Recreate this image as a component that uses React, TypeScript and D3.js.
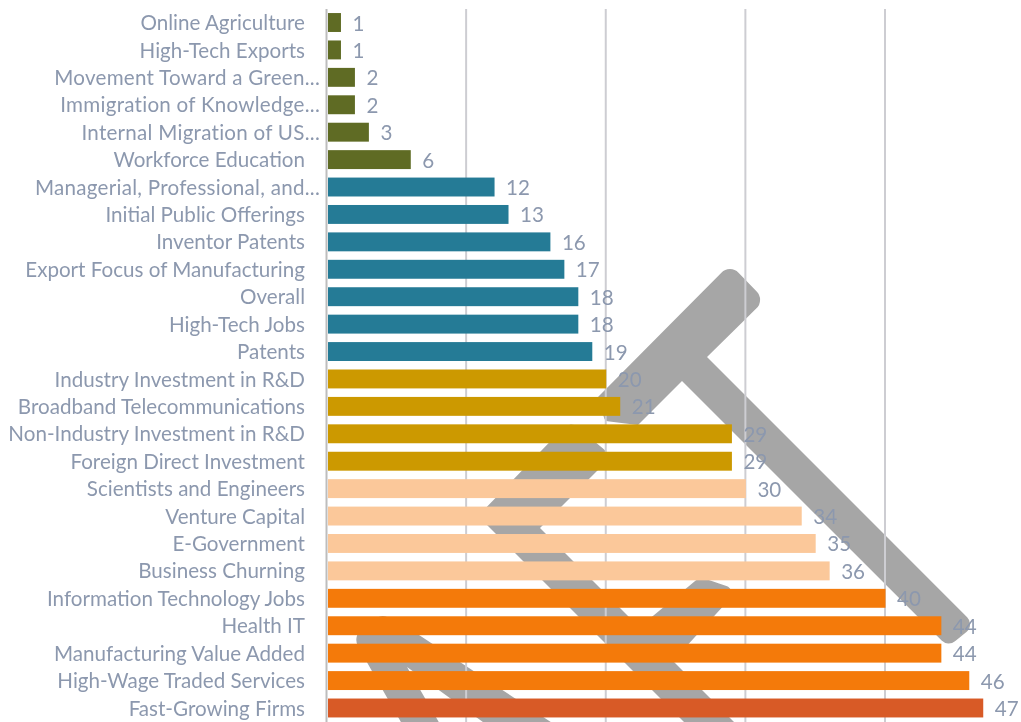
import React from "react";
import * as d3 from "d3";

const categories = ["Online Agriculture","High-Tech Exports","Movement Toward a Green...","Immigration of Knowledge...","Internal Migration of US...","Workforce Education","Managerial, Professional, and...","Initial Public Offerings","Inventor Patents","Export Focus of Manufacturing","Overall","High-Tech Jobs","Patents","Industry Investment in R&D","Broadband Telecommunications","Non-Industry Investment in R&D","Foreign Direct Investment","Scientists and Engineers","Venture Capital","E-Government","Business Churning","Information Technology Jobs","Health IT","Manufacturing Value Added","High-Wage Traded Services","Fast-Growing Firms"];
const values = [1,1,2,2,3,6,12,13,16,17,18,18,19,20,21,29,29,30,34,35,36,40,44,44,46,47];
const groupColors = ["#5f6b24","#257b96","#cc9900","#fbc89a","#f47a0a","#d85a26"];
const groupOfRow = [0,0,0,0,0,0,1,1,1,1,1,1,1,2,2,2,2,3,3,3,3,4,4,4,4,5];
const gridTicks = [10,20,30,40];

type Pt = [number, number, number];
const watermark: Pt[][] = [
  [[730,264,12],[765,300,12],[707,357,0],[975,625,10],[948,647,10],[682,381,0],[638,425,0],[605,421,4],[598,397,0]],
  [[570,421,10],[612,456,10],[540,528,0],[755,743,0],[705,743,0],[478,516,0]],
  [[700,577,10],[738,590,8],[672,662,0],[636,630,0]],
  [[382,614,12],[416,633,0],[575,738,0],[505,738,0],[407,667,0],[448,738,0],[410,738,0],[352,636,14]],
];

function roundedPoly(pts: Pt[]): string {
  const p = d3.path();
  const n = pts.length;
  const mid = (a: Pt, b: Pt) => [(a[0] + b[0]) / 2, (a[1] + b[1]) / 2];
  const s = mid(pts[n - 1], pts[0]);
  p.moveTo(s[0], s[1]);
  pts.forEach((c, i) => {
    const m = mid(c, pts[(i + 1) % n]);
    if (c[2] > 0) p.arcTo(c[0], c[1], m[0], m[1], c[2]);
    else p.lineTo(c[0], c[1]);
    p.lineTo(m[0], m[1]);
  });
  p.closePath();
  return p.toString();
}

const textColor = "#8c98ae";
const font = "Lato, 'Open Sans', sans-serif";

export default function App() {
  const x = d3.scaleLinear().domain([0, 40]).range([326.5, 885]);
  const y = d3.scaleBand<string>().domain(categories).range([8.8, 721.7]).paddingInner(0.31).paddingOuter(0.155);
  const bh = y.bandwidth();
  return (
    <svg width={1021} height={722} style={{ position: "absolute", left: 0, top: 0, background: "#fff" }}>
      <defs>
        <filter id="soft" x="-5%" y="-5%" width="110%" height="110%">
          <feGaussianBlur stdDeviation="0.35" />
        </filter>
      </defs>
      {watermark.map((s, i) => <path key={i} d={roundedPoly(s)} fill="#a6a6a6" />)}
      {gridTicks.map(t => (
        <line key={t} x1={x(t)} x2={x(t)} y1={9} y2={722} stroke="#cdcdd2" strokeWidth={2} />
      ))}
      <line x1={x(0)} x2={x(0)} y1={9} y2={722} stroke="#bdbdbd" strokeWidth={2} />
      {categories.map((c, i) => {
        const yy = y(c)!;
        const b = groupColors[groupOfRow[i]];
        return <rect key={c} x={x(0) + 1.5} y={yy} width={x(values[i]) - x(0) - 1} height={bh} fill={b} />;
      })}
      <g filter="url(#soft)" fontFamily={font} fontSize={20.6} fill={textColor}>
        {categories.map((c, i) => {
          const yy = y(c)!;
          const trunc = c.endsWith("...");
          return (
            <g key={c}>
              <text x={trunc ? 320 : 305} y={yy + bh / 2 + 7.6} textAnchor="end" letterSpacing={trunc ? 0.25 : 0}>{c}</text>
              <text x={x(values[i]) + 12} y={yy + bh / 2 + 8}>{values[i]}</text>
            </g>
          );
        })}
      </g>
    </svg>
  );
}
